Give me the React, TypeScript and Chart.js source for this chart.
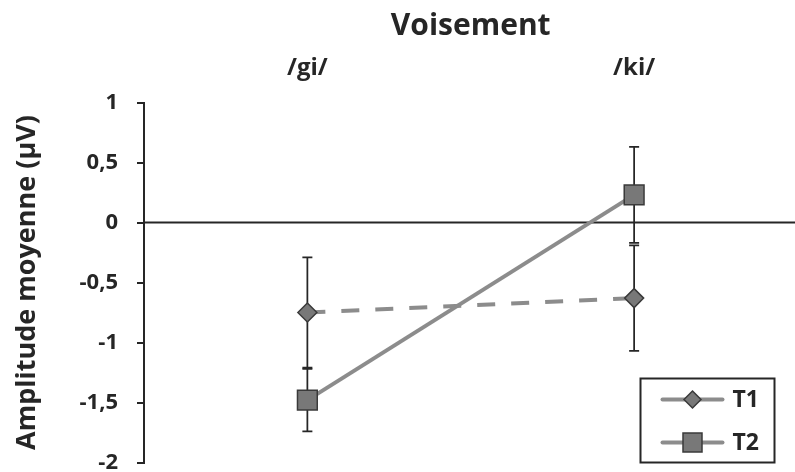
import React, { useEffect, useRef } from "react";
import { Chart, registerables } from "chart.js";

Chart.register(...registerables);

const categories = ["/gi/", "/ki/"];
const seriesNames = ["T1", "T2"];
const t1Values = [-0.75, -0.63];
const t1Errors = [0.46, 0.44];
const t2Values = [-1.48, 0.23];
const t2Errors = [0.26, 0.4];
const yTicks = [1, 0.5, 0, -0.5, -1, -1.5, -2];

const FONT = "'Open Sans', 'DejaVu Sans', sans-serif";
const TEXT = "#262626";
const LINE = "#8c8c8c";
const MARK_FILL = "#787878";
const MARK_BORDER = "#3a3a3a";

const errorBarPlugin = {
  id: "errorBars",
  beforeDatasetsDraw(chart: any) {
    const ctx = chart.ctx;
    const y = chart.scales.y;
    const area = chart.chartArea;
    // zero line
    const y0 = y.getPixelForValue(0);
    ctx.save();
    ctx.strokeStyle = TEXT;
    ctx.lineWidth = 2;
    ctx.beginPath();
    ctx.moveTo(area.left, y0);
    ctx.lineTo(chart.width, y0);
    ctx.stroke();
    ctx.restore();

    chart.data.datasets.forEach((ds: any, di: number) => {
      const meta = chart.getDatasetMeta(di);
      meta.data.forEach((pt: any, i: number) => {
        const v = ds.data[i];
        const e = ds.errors[i];
        const x = pt.x;
        const yt = y.getPixelForValue(v + e);
        const yb = y.getPixelForValue(v - e);
        ctx.save();
        ctx.strokeStyle = TEXT;
        ctx.lineWidth = 1.75;
        ctx.beginPath();
        ctx.moveTo(x, yt);
        ctx.lineTo(x, yb);
        ctx.moveTo(x - 5, yt);
        ctx.lineTo(x + 5, yt);
        ctx.moveTo(x - 5, yb);
        ctx.lineTo(x + 5, yb);
        ctx.stroke();
        ctx.restore();
      });
    });
  },
};

const legendPlugin = {
  id: "boxLegend",
  afterDraw(chart: any) {
    const ctx = chart.ctx;
    const area = chart.chartArea;
    const right = area.right - 23;
    const bottom = area.bottom;
    const w = 134;
    const h = 84;
    const left = right - w;
    const top = bottom - h;
    ctx.save();
    ctx.fillStyle = "#ffffff";
    ctx.fillRect(left, top, w, h);
    ctx.strokeStyle = TEXT;
    ctx.lineWidth = 2;
    ctx.strokeRect(left, top, w, h);
    chart.data.datasets.forEach((ds: any, i: number) => {
      const cy = top + 21 + i * 43;
      const lx1 = left + 22;
      const lx2 = left + 82;
      const mx = (lx1 + lx2) / 2;
      ctx.strokeStyle = LINE;
      ctx.lineWidth = 4;
      ctx.lineCap = "round";
      ctx.setLineDash([]);
      ctx.beginPath();
      ctx.moveTo(lx1, cy);
      ctx.lineTo(lx2, cy);
      ctx.stroke();
      ctx.lineCap = "butt";
      ctx.fillStyle = MARK_FILL;
      ctx.strokeStyle = MARK_BORDER;
      ctx.lineWidth = 1.5;
      ctx.beginPath();
      if (ds.pointStyle === "rectRot") {
        const r = 8.5;
        ctx.moveTo(mx, cy - r);
        ctx.lineTo(mx + r, cy);
        ctx.lineTo(mx, cy + r);
        ctx.lineTo(mx - r, cy);
        ctx.closePath();
      } else {
        const s = 9.5;
        ctx.rect(mx - s, cy - s, 2 * s, 2 * s);
      }
      ctx.fill();
      ctx.stroke();
      ctx.fillStyle = TEXT;
      ctx.font = `bold 23px ${FONT}`;
      ctx.textBaseline = "middle";
      ctx.textAlign = "left";
      ctx.fillText(ds.label, left + 92, cy + 1);
    });
    ctx.restore();
  },
};

export default function App() {
  const ref = useRef<HTMLCanvasElement | null>(null);

  useEffect(() => {
    if (!ref.current) return;
    const chart = new Chart(ref.current, {
      type: "line",
      data: {
        labels: categories,
        datasets: [
          {
            label: seriesNames[0],
            data: t1Values,
            errors: t1Errors,
            borderColor: LINE,
            borderWidth: 4,
            borderDash: [18, 16],
            pointStyle: "rectRot",
            pointRadius: 9.5,
            pointHoverRadius: 9.5,
            pointBackgroundColor: MARK_FILL,
            pointBorderColor: MARK_BORDER,
            pointBorderWidth: 1.5,
            tension: 0,
          } as any,
          {
            label: seriesNames[1],
            data: t2Values,
            errors: t2Errors,
            borderColor: LINE,
            borderWidth: 4,
            pointStyle: "rect",
            pointRadius: 14,
            pointHoverRadius: 14,
            pointBackgroundColor: MARK_FILL,
            pointBorderColor: MARK_BORDER,
            pointBorderWidth: 1.5,
            tension: 0,
          } as any,
        ],
      },
      options: {
        responsive: false,
        devicePixelRatio: 1,
        animation: false,
        events: [],
        layout: { padding: { top: 0, left: 0, right: 0, bottom: 17.5 } },
        plugins: {
          legend: { display: false },
          tooltip: { enabled: false },
        },
        scales: {
          x: {
            type: "category",
            position: "top",
            offset: true,
            grid: { display: false, drawTicks: false },
            border: { display: false },
            ticks: {
              color: TEXT,
              font: { family: FONT, size: 24, weight: "bold" },
              padding: 20,
            },
            title: {
              display: true,
              text: "Voisement",
              color: TEXT,
              font: { family: FONT, size: 30, weight: "bold" },
              padding: { top: 8, bottom: 0 },
            },
            afterFit(scale: any) {
              scale.height = 102.5;
              scale.paddingLeft = 0;
              scale.paddingRight = 0;
              scale.paddingTop = 0;
              scale.paddingBottom = 0;
            },
          },
          y: {
            min: -2,
            max: 1,
            afterBuildTicks(scale: any) {
              scale.ticks = yTicks.map((v) => ({ value: v }));
            },
            grid: {
              drawOnChartArea: false,
              drawTicks: true,
              tickLength: 7,
              color: TEXT,
              lineWidth: 2,
            },
            border: { display: true, color: TEXT, width: 2 },
            ticks: {
              color: TEXT,
              font: { family: FONT, size: 22, weight: "bold" },
              padding: 19,
              callback: (v: any) => String(v).replace(".", ","),
            },
            title: {
              display: true,
              text: "Amplitude moyenne (µV)",
              color: TEXT,
              font: { family: FONT, size: 27, weight: "bold" },
              padding: { top: 11, bottom: 0 },
            },
            afterFit(scale: any) {
              scale.width = 144;
              scale.paddingLeft = 0;
              scale.paddingRight = 0;
              scale.paddingTop = 0;
              scale.paddingBottom = 0;
            },
          },
        },
      } as any,
      plugins: [errorBarPlugin, legendPlugin],
    });
    return () => chart.destroy();
  }, []);

  return (
    <div
      style={{
        position: "absolute",
        left: 0,
        top: 0,
        width: 795,
        height: 472,
        overflow: "hidden",
        background: "#ffffff",
      }}
    >
      <canvas ref={ref} width={813} height={480} style={{ display: "block" }} />
    </div>
  );
}
